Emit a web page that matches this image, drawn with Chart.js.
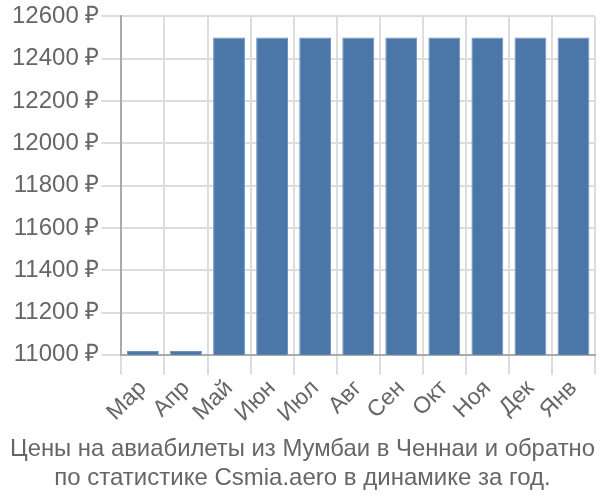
<!DOCTYPE html>
<html>
<head>
<meta charset="utf-8">
<script src="https://cdn.jsdelivr.net/npm/chart.js@4"></script>
<style>
  body { margin: 0; background: #fff; }
  #wrap { width: 600px; height: 500px; }
</style>
</head>
<body>
<div id="wrap"><canvas id="priceChart"></canvas></div>
<script>
const months = ['Мар', 'Апр', 'Май', 'Июн', 'Июл', 'Авг', 'Сен', 'Окт', 'Ноя', 'Дек', 'Янв'];
const prices = [11018, 11018, 12500, 12500, 12500, 12500, 12500, 12500, 12500, 12500, 12500];
const titleLines = ['Цены на авиабилеты из Мумбаи в Ченнаи и обратно', 'по статистике Csmia.aero в динамике за год.'];

Chart.defaults.font.family = '"Liberation Sans", Arial, sans-serif';
Chart.defaults.color = '#666';

const ctx = document.getElementById('priceChart').getContext('2d');
const priceChart = new Chart(ctx, {
  type: 'bar',
  data: {
    labels: months,
    datasets: [{
      data: prices,
      backgroundColor: '#4a76a8',
      borderColor: '#6f93bd',
      borderWidth: 1,
      barPercentage: 0.74,
      categoryPercentage: 1
    }]
  },
  options: {
    responsive: true,
    maintainAspectRatio: false,
    animation: false,
    layout: { padding: { top: 0, right: 5, left: 10, bottom: 3 } },
    plugins: {
      legend: { display: false },
      tooltip: { enabled: false },
      title: {
        display: true,
        position: 'bottom',
        text: titleLines,
        font: { size: 24, weight: 'normal', lineHeight: 1.2 },
        color: '#666',
        padding: { top: 8, bottom: 4 }
      }
    },
    scales: {
      x: {
        grid: { color: '#ddd', lineWidth: 2, tickLength: 20 },
        border: { color: '#aaa', width: 2 },
        ticks: { font: { size: 23 }, autoSkip: false, maxRotation: 45, minRotation: 45, padding: 0 }
      },
      y: {
        min: 11000,
        max: 12600,
        grid: { color: '#ddd', lineWidth: 2, tickLength: 20 },
        border: { color: '#aaa', width: 2 },
        ticks: {
          stepSize: 200,
          font: { size: 24 },
          padding: 2,
          callback: v => v + ' ₽'
        }
      }
    }
  }
});
</script>
</body>
</html>
